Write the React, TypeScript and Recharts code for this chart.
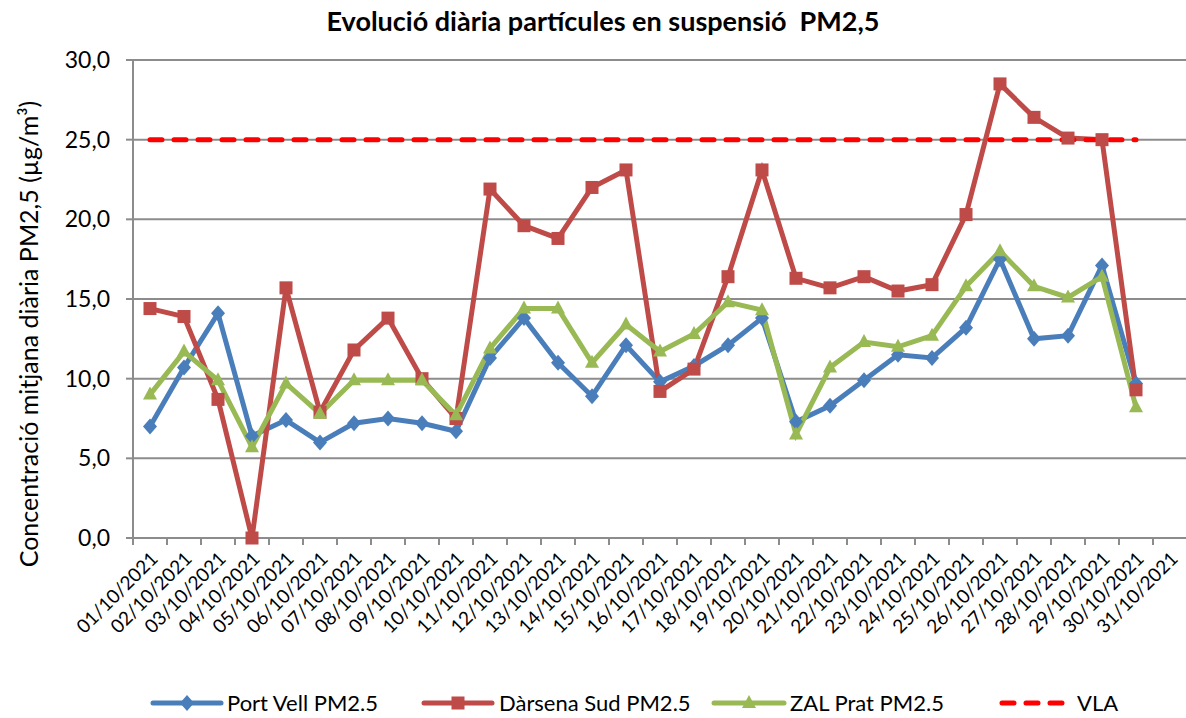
import { LineChart, Line, XAxis, YAxis, CartesianGrid } from "recharts"

const dates = [
  "01/10/2021", "02/10/2021", "03/10/2021", "04/10/2021", "05/10/2021", "06/10/2021",
  "07/10/2021", "08/10/2021", "09/10/2021", "10/10/2021", "11/10/2021", "12/10/2021",
  "13/10/2021", "14/10/2021", "15/10/2021", "16/10/2021", "17/10/2021", "18/10/2021",
  "19/10/2021", "20/10/2021", "21/10/2021", "22/10/2021", "23/10/2021", "24/10/2021",
  "25/10/2021", "26/10/2021", "27/10/2021", "28/10/2021", "29/10/2021", "30/10/2021",
  "31/10/2021",
]

const portVell = [
  7.0, 10.7, 14.1, 6.4, 7.4, 6.0, 7.2, 7.5, 7.2, 6.7, 11.3, 13.8, 11.0, 8.9, 12.1,
  9.8, 10.8, 12.1, 13.8, 7.3, 8.3, 9.9, 11.5, 11.3, 13.2, 17.5, 12.5, 12.7, 17.1, 9.7,
  null,
]
const darsenaSud = [
  14.4, 13.9, 8.7, 0.0, 15.7, 7.9, 11.8, 13.8, 10.0, 7.5, 21.9, 19.6, 18.8, 22.0, 23.1,
  9.2, 10.6, 16.4, 23.1, 16.3, 15.7, 16.4, 15.5, 15.9, 20.3, 28.5, 26.4, 25.1, 25.0, 9.3,
  null,
]
const zalPrat = [
  9.0, 11.7, 9.9, 5.7, 9.7, 7.8, 9.9, 9.9, 9.9, 7.7, 11.9, 14.4, 14.4, 11.0, 13.4,
  11.7, 12.8, 14.8, 14.3, 6.5, 10.7, 12.3, 12.0, 12.7, 15.8, 18.0, 15.8, 15.1, 16.4, 8.2,
  null,
]
const vla = [
  25, 25, 25, 25, 25, 25, 25, 25, 25, 25, 25, 25, 25, 25, 25, 25, 25, 25, 25, 25, 25, 25,
  25, 25, 25, 25, 25, 25, 25, 25, null,
]
const yTicks = [0, 5, 10, 15, 20, 25, 30]

const data = dates.map((d, i) => ({
  date: d,
  portVell: portVell[i],
  darsenaSud: darsenaSud[i],
  zalPrat: zalPrat[i],
  vla: vla[i],
}))

const BLUE = "#4A7EBB"
const RED = "#BE4B48"
const GREEN = "#98B954"
const GRID = "#8C8C8C"
const FONT = "Lato, 'Open Sans', sans-serif"

const DateTick = (props: any) => {
  const { x, y, payload } = props
  return (
    <g transform={`translate(${x},${y})`}>
      <line x1={-17} y1={0} x2={-17} y2={7} stroke={GRID} strokeWidth={2} />
      <text
        x={9}
        y={22}
        textAnchor="end"
        transform="rotate(-45 9 22)"
        fontSize={19}
        fontFamily={FONT}
        fill="#000"
      >
        {payload.value}
      </text>
    </g>
  )
}

const diamondDot = (props: any) => {
  const { cx, cy, index } = props
  if (cx == null || cy == null) return <g key={`d${index}`} />
  return (
    <path
      key={`d${index}`}
      d={`M${cx},${cy - 8} L${cx + 7},${cy} L${cx},${cy + 8} L${cx - 7},${cy} Z`}
      fill={BLUE}
    />
  )
}

const squareDot = (props: any) => {
  const { cx, cy, index } = props
  if (cx == null || cy == null) return <g key={`s${index}`} />
  return <rect key={`s${index}`} x={cx - 6.5} y={cy - 6.5} width={13} height={13} fill={RED} />
}

const triangleDot = (props: any) => {
  const { cx, cy, index } = props
  if (cx == null || cy == null) return <g key={`t${index}`} />
  return (
    <path
      key={`t${index}`}
      d={`M${cx},${cy - 8} L${cx + 7},${cy + 5} L${cx - 7},${cy + 5} Z`}
      fill={GREEN}
    />
  )
}

function LegendRow() {
  const ly = 703
  const ty = 711
  return (
    <svg width={1186} height={718} style={{ position: "absolute", left: 0, top: 0, pointerEvents: "none" }}>
      <line x1={153} y1={ly} x2={221} y2={ly} stroke={BLUE} strokeWidth={5} strokeLinecap="round" />
      <path d={`M187,${ly - 8} L194,${ly} L187,${ly + 8} L180,${ly} Z`} fill={BLUE} />
      <text x={227} y={ty} fontSize={22} fontFamily={FONT}>Port Vell PM2.5</text>

      <line x1={424} y1={ly} x2={492} y2={ly} stroke={RED} strokeWidth={5} strokeLinecap="round" />
      <rect x={451.5} y={ly - 6.5} width={13} height={13} fill={RED} />
      <text x={499} y={ty} fontSize={22} fontFamily={FONT}>Dàrsena Sud PM2.5</text>

      <line x1={714} y1={ly} x2={784} y2={ly} stroke={GREEN} strokeWidth={5} strokeLinecap="round" />
      <path d={`M749,${ly - 8} L756,${ly + 5} L742,${ly + 5} Z`} fill={GREEN} />
      <text x={790} y={ty} fontSize={22} fontFamily={FONT}>ZAL Prat PM2.5</text>

      <line x1={1002} y1={ly} x2={1062} y2={ly} stroke="#FF0000" strokeWidth={5} strokeDasharray="12 12" strokeLinecap="round" />
      <text x={1077} y={ty} fontSize={22} fontFamily={FONT}>VLA</text>
    </svg>
  )
}

export default function App() {
  return (
    <div
      style={{
        position: "absolute",
        left: 0,
        top: 0,
        width: 1186,
        height: 718,
        overflow: "hidden",
        background: "#fff",
        fontFamily: FONT,
      }}
    >
      <div
        style={{
          position: "absolute",
          top: 4,
          left: 0,
          width: 1206,
          textAlign: "center",
          fontSize: 27,
          fontWeight: 700,
          whiteSpace: "pre",
        }}
      >
        {"Evolució diària partícules en suspensió  PM2,5"}
      </div>
      <LineChart
        width={1200}
        height={718}
        data={data}
        margin={{ top: 60, right: 13, bottom: 60, left: 0 }}
      >
        <CartesianGrid vertical={false} stroke={GRID} strokeWidth={2} />
        <XAxis
          dataKey="date"
          interval={0}
          padding={{ left: 17, right: 17 }}
          height={120}
          tickLine={false}
          tickSize={0}
          tickMargin={0}
          tick={<DateTick />}
          axisLine={{ stroke: GRID, strokeWidth: 2 }}
        />
        <YAxis
          domain={[0, 30]}
          ticks={yTicks}
          width={133}
          interval={0}
          tickFormatter={(v: number) => v.toFixed(1).replace(".", ",")}
          tick={{ fontSize: 23, fill: "#000", fontFamily: FONT }}
          tickSize={7}
          tickMargin={16}
          tickLine={{ stroke: GRID, strokeWidth: 2 }}
          axisLine={{ stroke: GRID, strokeWidth: 2 }}
          label={() => (
            <text
              x={38}
              y={334}
              transform="rotate(-90 38 334)"
              textAnchor="middle"
              fontSize={25}
              fontFamily={FONT}
              fill="#000"
            >
              Concentració mitjana diària PM2,5 (µg/m³)
            </text>
          )}
        />
        <Line
          dataKey="portVell"
          stroke={BLUE}
          strokeWidth={5}
          dot={diamondDot}
          activeDot={false}
          isAnimationActive={false}
        />
        <Line
          dataKey="darsenaSud"
          stroke={RED}
          strokeWidth={5}
          dot={squareDot}
          activeDot={false}
          isAnimationActive={false}
        />
        <Line
          dataKey="zalPrat"
          stroke={GREEN}
          strokeWidth={5}
          dot={triangleDot}
          activeDot={false}
          isAnimationActive={false}
        />
        <Line
          dataKey="vla"
          stroke="#FF0000"
          strokeWidth={5}
          strokeDasharray="12 12"
          strokeLinecap="round"
          dot={false}
          activeDot={false}
          isAnimationActive={false}
        />
      </LineChart>
      <LegendRow />
    </div>
  )
}
